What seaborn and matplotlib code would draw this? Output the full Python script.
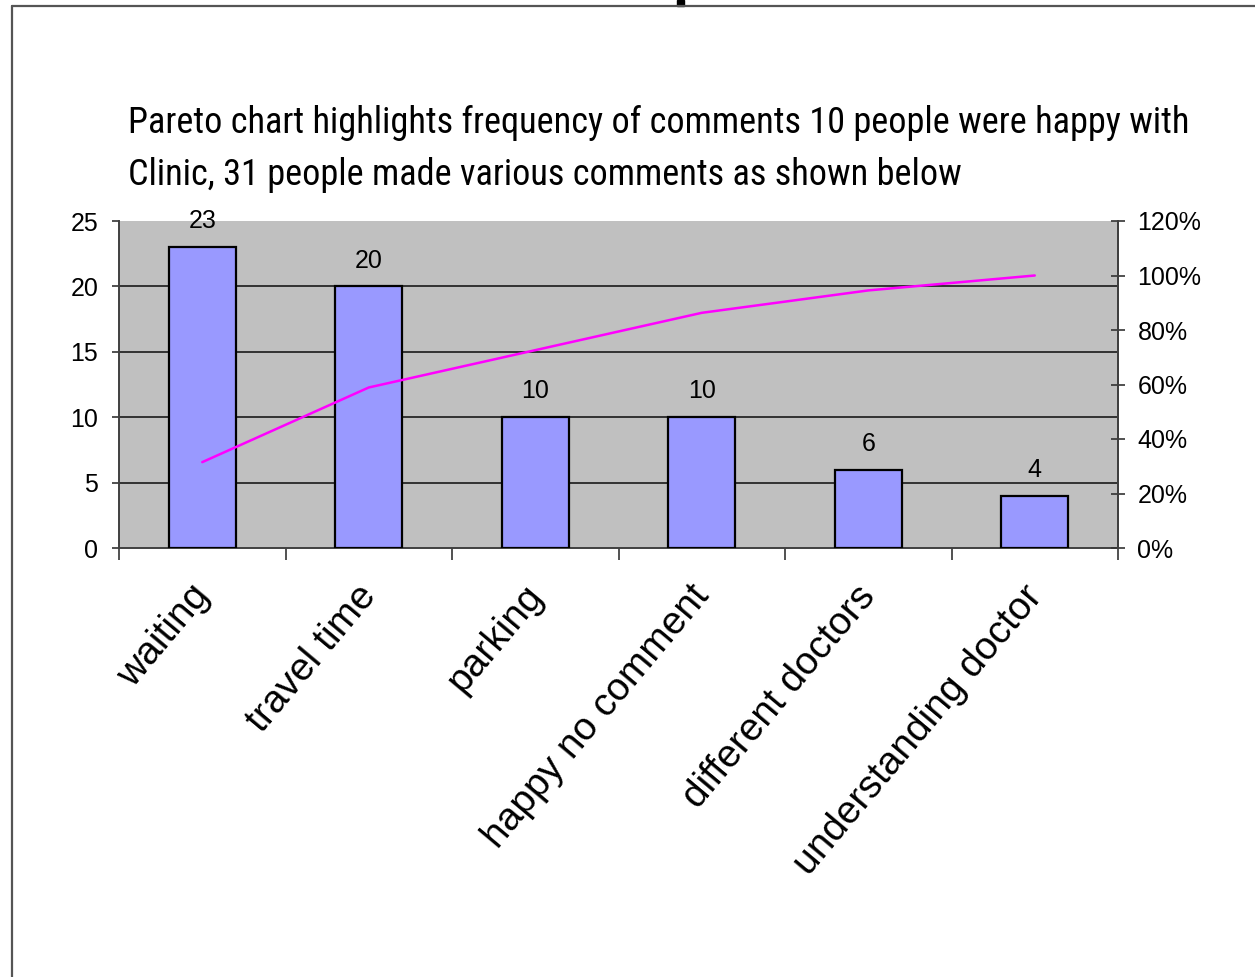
import numpy as np
import pandas as pd
import matplotlib
matplotlib.use("Agg")
import matplotlib.pyplot as plt
import matplotlib.transforms as mtransforms
from matplotlib.lines import Line2D
from matplotlib.patches import Rectangle
from matplotlib import font_manager
import seaborn as sns

# ---- data ----
categories = ["waiting", "travel time", "parking", "happy no comment",
              "different doctors", "understanding doctor"]
counts = [23, 20, 10, 10, 6, 4]
left_ticks = [0, 5, 10, 15, 20, 25]
right_ticks = [0.0, 0.2, 0.4, 0.6, 0.8, 1.0, 1.2]
right_labels = ["0%", "20%", "40%", "60%", "80%", "100%", "120%"]
title_lines = ["Pareto chart highlights frequency of comments 10 people were happy with",
               "Clinic, 31 people made various comments as shown below"]

cum_pct = np.cumsum(counts) / np.sum(counts)
df = pd.DataFrame({"category": categories, "count": counts,
                   "pos": np.arange(len(categories)), "cum": cum_pct})

sns.set_theme(style="white")
plt.rcParams['font.family'] = ['Liberation Sans', 'DejaVu Sans']
plt.rcParams['text.color'] = 'black'
plt.rcParams['xtick.color'] = 'black'
plt.rcParams['ytick.color'] = 'black'

W, H = 1255, 977
fig = plt.figure(figsize=(W / 100, H / 100), dpi=100)
fig.patch.set_facecolor("white")

ax = fig.add_axes([119 / W, 1 - 548 / H, (1118 - 119) / W, (548 - 221) / H])
ax.set_facecolor("#C0C0C0")

sns.barplot(data=df, x="category", y="count", color="#9999FF", width=0.4,
            edgecolor="black", linewidth=1.6, saturation=1, ax=ax, zorder=3)
ax.set_xlim(-0.5, len(categories) - 0.5)
ax.set_ylim(0, 25)
ax.set_yticks(left_ticks)
ax.set_xlabel("")
ax.set_ylabel("")
for c in ax.containers:
    lbls = ax.bar_label(c, fmt="%d", padding=10, fontsize=18, color="black")
    for t in lbls:
        t.set_clip_on(False)

for v in left_ticks[1:-1]:
    ax.axhline(v, color="#1a1a1a", lw=1.2, zorder=1)

ax.tick_params(axis="y", which="major", direction="out", length=5, width=1.2,
               color="#333333", pad=10, labelsize=18, left=True, labelcolor="black")
ax.tick_params(axis="x", which="major", length=0, pad=22, labelcolor="black")
ax.set_xticks(np.arange(-0.5, len(categories), 1.0), minor=True)
ax.tick_params(axis="x", which="minor", direction="out", length=8.5, width=1.2,
               color="#333333", bottom=True)
offset = mtransforms.ScaledTranslation(0.15, 0, fig.dpi_scale_trans)
for lab in ax.get_xticklabels():
    lab.set_rotation(50)
    lab.set_ha("right")
    lab.set_va("top")
    lab.set_fontsize(28)
    lab.set_color("black")
    lab.set_transform(lab.get_transform() + offset)

for s in ["left", "right", "bottom"]:
    ax.spines[s].set_visible(True)
    ax.spines[s].set_color("#404040")
    ax.spines[s].set_linewidth(1.4)
ax.spines["top"].set_visible(False)

ax2 = ax.twinx()
sns.lineplot(data=df, x="pos", y="cum", color="#FF00FF", lw=1.8, ax=ax2, zorder=4)
ax2.set_ylim(0, 1.2)
ax2.set_yticks(right_ticks)
ax2.set_yticklabels(right_labels)
ax2.set_ylabel("")
ax2.set_xlabel("")
ax2.tick_params(axis="y", direction="inout", length=10, width=1.2, color="#333333",
                pad=9, labelsize=18, right=True, labelcolor="black")
for s in ["left", "top", "bottom"]:
    ax2.spines[s].set_visible(False)
ax2.spines["right"].set_color("#404040")
ax2.spines["right"].set_linewidth(1.4)
ax2.grid(False)
ax.grid(False)

# title lines: prefer a condensed face if one is installed
names = {f.name for f in font_manager.fontManager.ttflist}
cands = ["Liberation Sans Narrow", "DejaVu Sans Condensed", "Roboto Condensed",
         "Open Sans Condensed", "Noto Sans Display", "Roboto", "Lato"]
title_fam = [n for n in cands if n in names] + ["DejaVu Sans"]
t1 = fig.text(128 / W, 1 - 133 / H, title_lines[0], fontsize=27, family=title_fam,
              stretch="condensed", ha="left", va="baseline", color="black")
t2 = fig.text(128 / W, 1 - 185 / H, title_lines[1], fontsize=27, family=title_fam,
              stretch="condensed", ha="left", va="baseline", color="black")
fig.canvas.draw()
r = fig.canvas.get_renderer()
w = t1.get_window_extent(r).width
fs = 27 * (1060 / w)
t1.set_fontsize(fs)
t2.set_fontsize(fs)

# slide frame
fig.add_artist(Line2D([12 / W, 1], [1 - 6 / H, 1 - 6 / H], color="#555555", lw=1.6,
                      transform=fig.transFigure))
fig.add_artist(Line2D([12 / W, 12 / W], [0, 1 - 6 / H], color="#555555", lw=1.6,
                      transform=fig.transFigure))
fig.add_artist(Rectangle((677 / W, 1 - 6 / H), 7 / W, 6 / H, color="black",
                         transform=fig.transFigure))

fig.savefig("out.png", dpi=100)
